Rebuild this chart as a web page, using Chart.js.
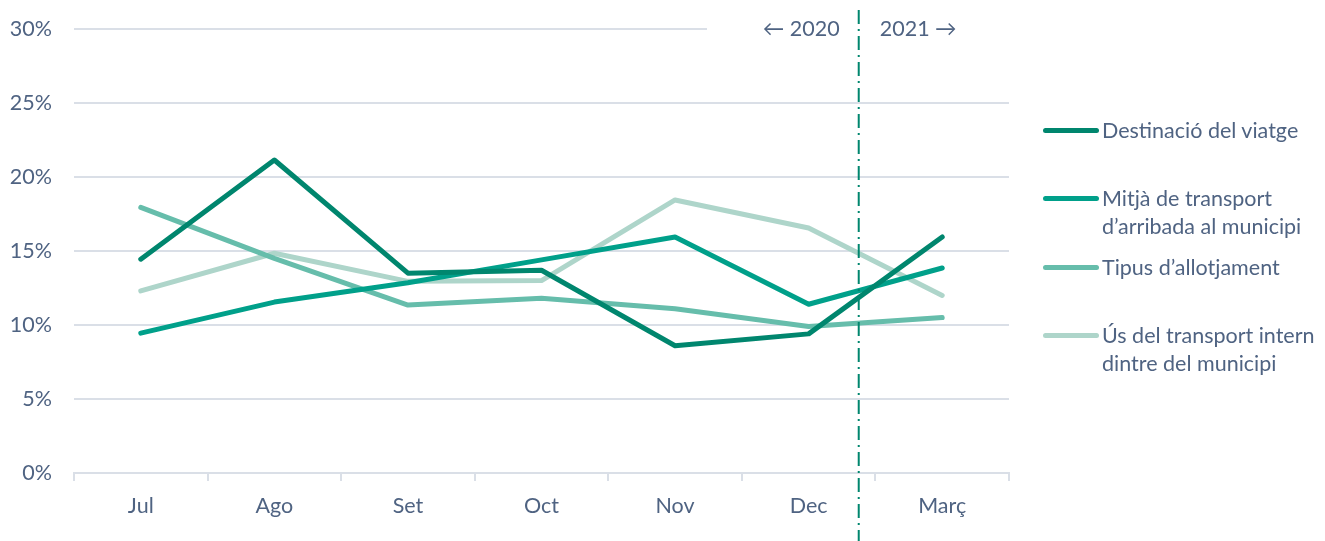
<!DOCTYPE html>
<html>
<head>
<meta charset="utf-8">
<script src="https://cdn.jsdelivr.net/npm/chart.js@4"></script>
<style>
  html, body { margin: 0; padding: 0; background: #fff; }
  #wrap { position: relative; width: 1325px; height: 541px; }
  #legend { position: absolute; left: 1043px; top: 0; font-family: Lato, sans-serif; font-size: 21.5px; color: #4f6382; }
  .item { position: absolute; left: 0; white-space: nowrap; line-height: 28px; }
  .item .sw { position: absolute; left: 0; top: 12px; width: 56px; height: 5px; border-radius: 3px; }
  .item .tx { position: absolute; left: 59px; top: 0; }
</style>
</head>
<body>
<div id="wrap">
  <canvas id="chart" width="1325" height="541"></canvas>
  <div id="legend"></div>
</div>
<script>
const months = ["Jul", "Ago", "Set", "Oct", "Nov", "Dec", "Març"];
const destinacio = [14.45, 21.15, 13.5, 13.7, 8.6, 9.4, 15.95];
const mitja = [9.45, 11.55, 12.85, 14.4, 15.95, 11.4, 13.85];
const tipus = [17.95, 14.5, 11.35, 11.8, 11.1, 9.9, 10.5];
const usTransport = [12.3, 14.85, 12.95, 13.0, 18.45, 16.55, 12.0];

const labels = [["Destinació del viatge"], ["Mitjà de transport", "d’arribada al municipi"], ["Tipus d’allotjament"], ["Ús del transport intern", "dintre del municipi"]];
const colors = ["#00866e", "#00a08a", "#66bdab", "#aed5ca"];
const legendTops = [116, 184, 253, 321];

const textColor = "#4f6382";
const gridColor = "#dadfe7";
const fontFamily = "Lato";
const fontSize = 21.5;

const yearMarker = {
  id: 'yearMarker',
  beforeDatasetsDraw(chart) {
    const ctx = chart.ctx;
    const x = chart.scales.x;
    const y = chart.scales.y;
    const top = y.getPixelForValue(30);
    ctx.save();
    ctx.fillStyle = "#fff";
    ctx.fillRect(707, top - 4, chart.chartArea.right - 707 + 2, 8);
    ctx.fillStyle = textColor;
    ctx.font = fontSize + "px Lato, sans-serif";
    ctx.textBaseline = "middle";
    const lx = x.getPixelForValue(5) + (x.getPixelForValue(6) - x.getPixelForValue(5)) * 0.375;
    ctx.textAlign = "right";
    ctx.fillText("← 2020", lx - 19, top);
    ctx.textAlign = "left";
    ctx.fillText("2021 →", lx + 21, top);
    ctx.restore();
  },
  afterDatasetsDraw(chart) {
    const ctx = chart.ctx;
    const x = chart.scales.x;
    const lx = x.getPixelForValue(5) + (x.getPixelForValue(6) - x.getPixelForValue(5)) * 0.375;
    ctx.save();
    ctx.strokeStyle = "#00866e";
    ctx.lineWidth = 2;
    ctx.setLineDash([14, 5, 2, 5]);
    ctx.beginPath();
    ctx.moveTo(lx, 10);
    ctx.lineTo(lx, chart.height);
    ctx.stroke();
    ctx.restore();
  }
};

const series = [destinacio, mitja, tipus, usTransport];

new Chart(document.getElementById('chart'), {
  type: 'line',
  data: {
    labels: months,
    datasets: series.map((d, i) => ({
      label: labels[i].join(' '),
      data: d,
      borderColor: colors[i],
      borderWidth: 5,
      pointRadius: 0,
      tension: 0,
      borderCapStyle: 'round',
      borderJoinStyle: 'round',
      fill: false
    }))
  },
  options: {
    responsive: false,
    animation: false,
    layout: { padding: { top: 29, right: 316, left: 0, bottom: 0 } },
    plugins: { legend: { display: false }, tooltip: { enabled: false } },
    scales: {
      x: {
        offset: true,
        grid: { offset: true, drawOnChartArea: false, color: gridColor, lineWidth: 2, tickLength: 8 },
        border: { color: gridColor, width: 2 },
        ticks: { color: textColor, font: { family: fontFamily, size: fontSize }, padding: 12 },
        afterFit(s) { s.height = 68; }
      },
      y: {
        min: 0, max: 30,
        grid: { color: gridColor, lineWidth: 2, drawTicks: false },
        border: { display: false },
        ticks: { stepSize: 5, color: textColor, font: { family: fontFamily, size: fontSize }, padding: 22, callback: v => v + '%' },
        afterFit(s) { s.width = 74; s.paddingTop = 0; s.paddingBottom = 0; }
      }
    }
  },
  plugins: [yearMarker]
});

const legend = document.getElementById('legend');
labels.forEach((lines, i) => {
  const div = document.createElement('div');
  div.className = 'item';
  div.style.top = legendTops[i] + 'px';
  div.innerHTML = '<div class="sw" style="background:' + colors[i] + '"></div><div class="tx">' + lines.join('<br>') + '</div>';
  legend.appendChild(div);
});
</script>
</body>
</html>
